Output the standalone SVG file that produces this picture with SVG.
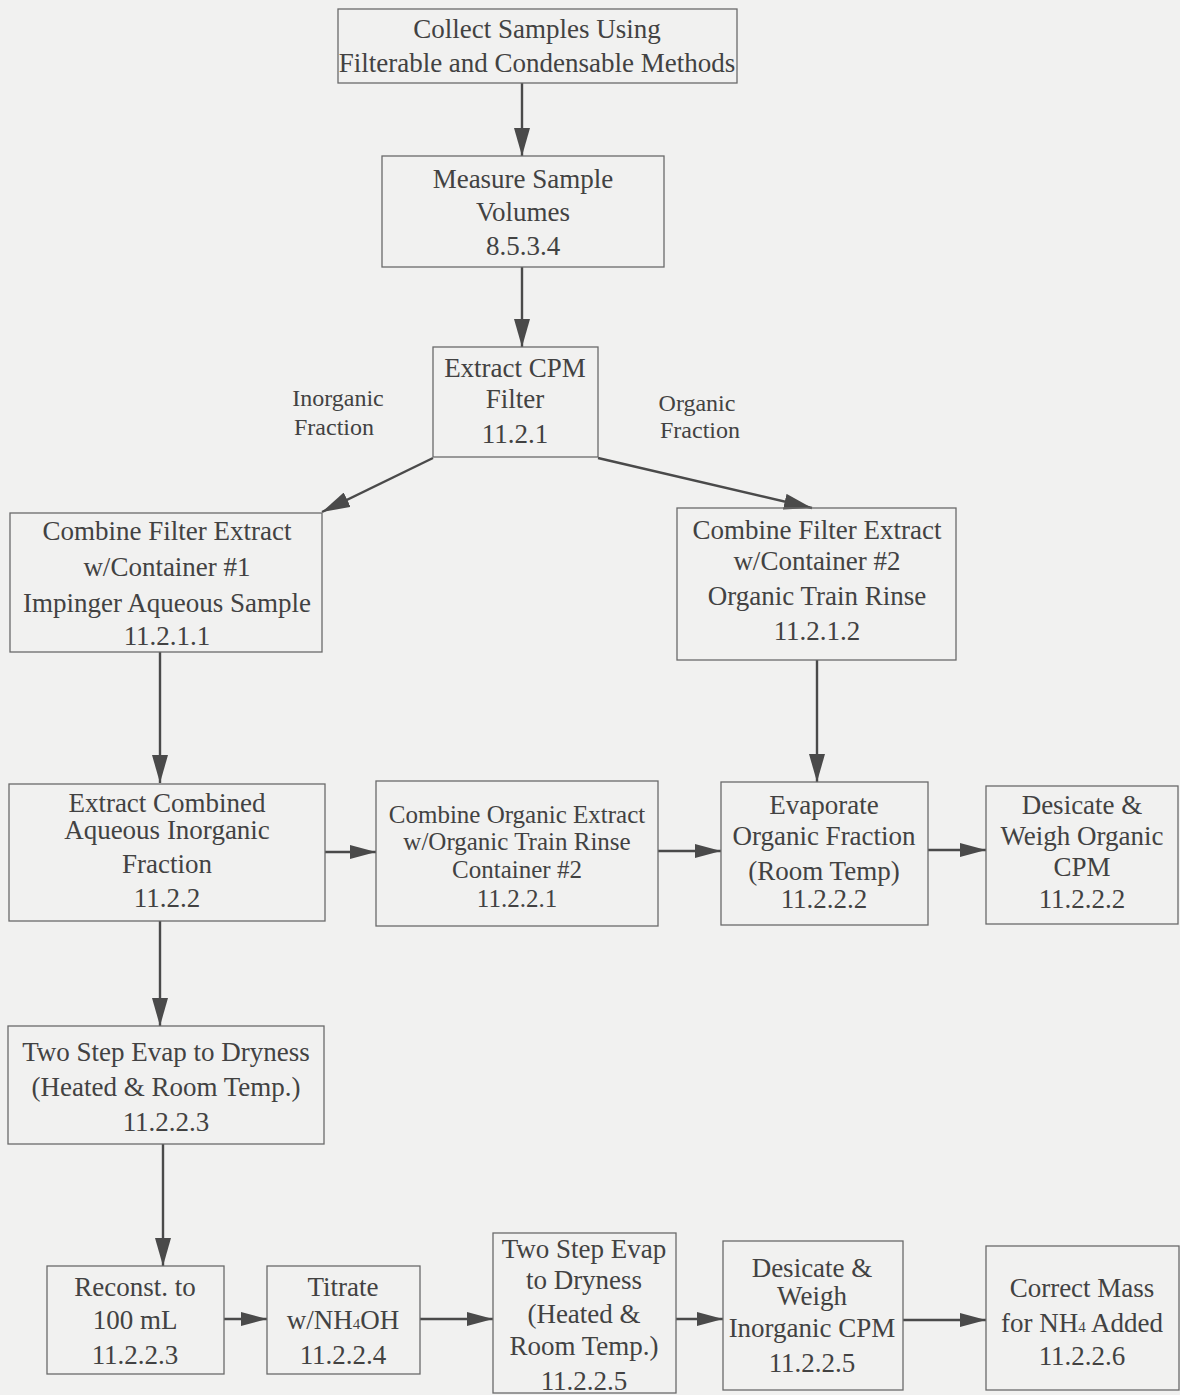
<svg xmlns="http://www.w3.org/2000/svg" width="1180" height="1395" viewBox="0 0 1180 1395">
<defs>
<marker id="ah" markerUnits="userSpaceOnUse" markerWidth="28" markerHeight="16" refX="28" refY="8" orient="auto">
<path d="M0,0 L28,8 L0,16 z" fill="#4a4a4a"/>
</marker>
<marker id="ahs" markerUnits="userSpaceOnUse" markerWidth="26" markerHeight="14" refX="26" refY="7" orient="auto">
<path d="M0,0 L26,7 L0,14 z" fill="#4a4a4a"/>
</marker>
<style>
.box{fill:none;stroke:#6a6a6a;stroke-width:1.3}
.t{font-family:"Liberation Serif","Times New Roman",serif;font-size:27px;fill:#424242;text-anchor:middle}
.s{font-size:25px}
.lbl{font-family:"Liberation Serif","Times New Roman",serif;font-size:24px;fill:#424242;text-anchor:middle}
.sub{font-size:15px}
.c{fill:none;stroke:#4a4a4a;stroke-width:2.4}
</style>
</defs>
<rect width="1180" height="1395" fill="#f1f1f0"/>
<g id="connectors">
<line class="c" x1="522" y1="83" x2="522" y2="156" marker-end="url(#ah)"/>
<line class="c" x1="522" y1="267" x2="522" y2="347" marker-end="url(#ah)"/>
<line class="c" x1="433" y1="458" x2="322" y2="512" marker-end="url(#ah)"/>
<line class="c" x1="598" y1="458" x2="812" y2="508" marker-end="url(#ah)"/>
<line class="c" x1="160" y1="652" x2="160" y2="783" marker-end="url(#ah)"/>
<line class="c" x1="817" y1="660" x2="817" y2="782" marker-end="url(#ah)"/>
<line class="c" x1="325" y1="852" x2="376" y2="852" marker-end="url(#ahs)"/>
<line class="c" x1="658" y1="851" x2="721" y2="851" marker-end="url(#ahs)"/>
<line class="c" x1="928" y1="850" x2="986" y2="850" marker-end="url(#ahs)"/>
<line class="c" x1="160" y1="921" x2="160" y2="1026" marker-end="url(#ah)"/>
<line class="c" x1="163" y1="1144" x2="163" y2="1266" marker-end="url(#ah)"/>
<line class="c" x1="224" y1="1319" x2="267" y2="1319" marker-end="url(#ahs)"/>
<line class="c" x1="420" y1="1319" x2="493" y2="1319" marker-end="url(#ahs)"/>
<line class="c" x1="676" y1="1319" x2="723" y2="1319" marker-end="url(#ahs)"/>
<line class="c" x1="903" y1="1320" x2="986" y2="1320" marker-end="url(#ahs)"/>
</g>
<g id="n-collect">
<rect class="box" x="338" y="9" width="399" height="74"/>
<text class="t" x="537" y="38">Collect Samples Using</text>
<text class="t" x="537" y="72">Filterable and Condensable Methods</text>
</g>
<g id="n-measure">
<rect class="box" x="382" y="156" width="282" height="111"/>
<text class="t" x="523" y="188">Measure Sample</text>
<text class="t" x="523" y="221">Volumes</text>
<text class="t" x="523" y="255">8.5.3.4</text>
</g>
<g id="n-extractcpm">
<rect class="box" x="433" y="347" width="165" height="110"/>
<text class="t" x="515" y="377">Extract CPM</text>
<text class="t" x="515" y="408">Filter</text>
<text class="t" x="515" y="443">11.2.1</text>
</g>
<g id="lbl-inorganic">
<text class="lbl" x="338" y="406">Inorganic</text>
<text class="lbl" x="334" y="435">Fraction</text>
</g>
<g id="lbl-organic">
<text class="lbl" x="697" y="411">Organic</text>
<text class="lbl" x="700" y="438">Fraction</text>
</g>
<g id="n-combine1">
<rect class="box" x="10" y="513" width="312" height="139"/>
<text class="t" x="167" y="540">Combine Filter Extract</text>
<text class="t" x="167" y="576">w/Container #1</text>
<text class="t" x="167" y="612">Impinger Aqueous Sample</text>
<text class="t" x="167" y="645">11.2.1.1</text>
</g>
<g id="n-combine2">
<rect class="box" x="677" y="508" width="279" height="152"/>
<text class="t" x="817" y="539">Combine Filter Extract</text>
<text class="t" x="817" y="570">w/Container #2</text>
<text class="t" x="817" y="605">Organic Train Rinse</text>
<text class="t" x="817" y="640">11.2.1.2</text>
</g>
<g id="n-extractcombined">
<rect class="box" x="9" y="784" width="316" height="137"/>
<text class="t" x="167" y="812">Extract Combined</text>
<text class="t" x="167" y="839">Aqueous Inorganic</text>
<text class="t" x="167" y="873">Fraction</text>
<text class="t" x="167" y="907">11.2.2</text>
</g>
<g id="n-combineorganic">
<rect class="box" x="376" y="781" width="282" height="145"/>
<text class="t s" x="517" y="823">Combine Organic Extract</text>
<text class="t s" x="517" y="850">w/Organic Train Rinse</text>
<text class="t s" x="517" y="878">Container #2</text>
<text class="t s" x="517" y="907">11.2.2.1</text>
</g>
<g id="n-evaporate">
<rect class="box" x="721" y="782" width="207" height="143"/>
<text class="t" x="824" y="814">Evaporate</text>
<text class="t" x="824" y="845">Organic Fraction</text>
<text class="t" x="824" y="880">(Room Temp)</text>
<text class="t" x="824" y="908">11.2.2.2</text>
</g>
<g id="n-desicateorganic">
<rect class="box" x="986" y="786" width="192" height="138"/>
<text class="t" x="1082" y="814">Desicate &amp;</text>
<text class="t" x="1082" y="845">Weigh Organic</text>
<text class="t" x="1082" y="876">CPM</text>
<text class="t" x="1082" y="908">11.2.2.2</text>
</g>
<g id="n-twostep1">
<rect class="box" x="8" y="1026" width="316" height="118"/>
<text class="t" x="166" y="1061">Two Step Evap to Dryness</text>
<text class="t" x="166" y="1096">(Heated &amp; Room Temp.)</text>
<text class="t" x="166" y="1131">11.2.2.3</text>
</g>
<g id="n-reconst">
<rect class="box" x="47" y="1266" width="177" height="108"/>
<text class="t" x="135" y="1296">Reconst. to</text>
<text class="t" x="135" y="1329">100 mL</text>
<text class="t" x="135" y="1364">11.2.2.3</text>
</g>
<g id="n-titrate">
<rect class="box" x="267" y="1266" width="153" height="108"/>
<text class="t" x="343" y="1296">Titrate</text>
<text class="t" x="343" y="1329">w/NH<tspan class="sub">4</tspan>OH</text>
<text class="t" x="343" y="1364">11.2.2.4</text>
</g>
<g id="n-twostep2">
<rect class="box" x="493" y="1233" width="183" height="160"/>
<text class="t" x="584" y="1258">Two Step Evap</text>
<text class="t" x="584" y="1289">to Dryness</text>
<text class="t" x="584" y="1323">(Heated &amp;</text>
<text class="t" x="584" y="1355">Room Temp.)</text>
<text class="t" x="584" y="1390">11.2.2.5</text>
</g>
<g id="n-desicateinorganic">
<rect class="box" x="723" y="1241" width="180" height="149"/>
<text class="t" x="812" y="1277">Desicate &amp;</text>
<text class="t" x="812" y="1305">Weigh</text>
<text class="t" x="812" y="1337">Inorganic CPM</text>
<text class="t" x="812" y="1372">11.2.2.5</text>
</g>
<g id="n-correct">
<rect class="box" x="986" y="1246" width="193" height="144"/>
<text class="t" x="1082" y="1297">Correct Mass</text>
<text class="t" x="1082" y="1332">for NH<tspan class="sub">4</tspan> Added</text>
<text class="t" x="1082" y="1365">11.2.2.6</text>
</g>
</svg>
